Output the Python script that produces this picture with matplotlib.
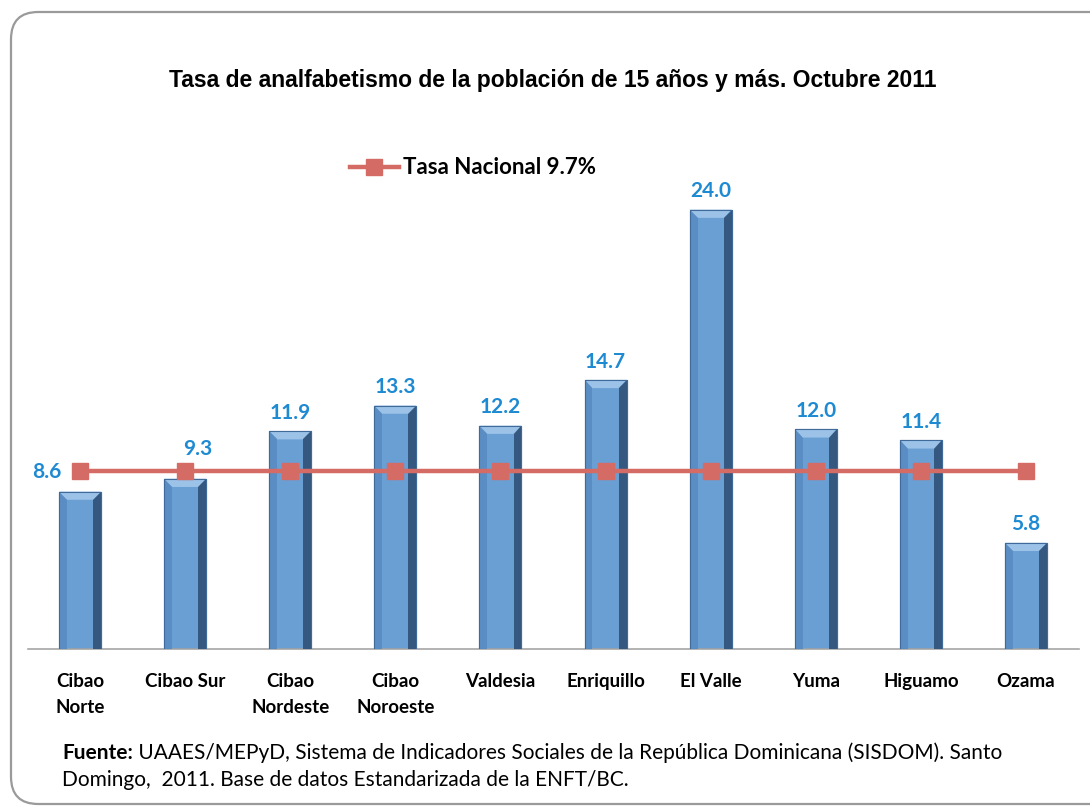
import matplotlib
matplotlib.use("Agg")
import matplotlib.pyplot as plt
from matplotlib.patches import Polygon, FancyBboxPatch
from matplotlib.lines import Line2D

categories = ["Cibao\nNorte", "Cibao Sur", "Cibao\nNordeste", "Cibao\nNoroeste", "Valdesia",
              "Enriquillo", "El Valle", "Yuma", "Higuamo", "Ozama"]
values = [8.6, 9.3, 11.9, 13.3, 12.2, 14.7, 24.0, 12.0, 11.4, 5.8]
national_rate = 9.7
national_label = "Tasa Nacional 9.7%"
title = "Tasa de analfabetismo de la población de 15 años y más. Octubre 2011"
source_bold = "Fuente:"
source_line1 = " UAAES/MEPyD, Sistema de Indicadores Sociales de la República Dominicana (SISDOM). Santo"
source_line2 = "Domingo,  2011. Base de datos Estandarizada de la ENFT/BC."

W, H = 1090, 810
fig = plt.figure(figsize=(W / 100, H / 100), dpi=100)
fig.patch.set_facecolor("white")

# rounded frame (runs off the right edge as in the reference)
frame = FancyBboxPatch((11 / W, 6 / H), 1120 / W, 792 / H,
                       boxstyle="round,pad=0,rounding_size=0.025",
                       transform=fig.transFigure, facecolor="none",
                       edgecolor="#9a9a9a", linewidth=1.6, zorder=-5, mutation_aspect=W / H)
fig.patches.append(frame)

ax_left, ax_right = 27.5, 1078.5
ax_bottom_px, ax_top_px = 649, 173
ax = fig.add_axes([ax_left / W, (H - ax_bottom_px) / H, (ax_right - ax_left) / W,
                   (ax_bottom_px - ax_top_px) / H])
ax.set_facecolor("none")
x = list(range(len(categories)))
ax.set_xlim(-0.5, len(categories) - 0.5)
ax.set_ylim(0, 26)

bar_w = 0.40
bars = ax.bar(x, values, width=bar_w, color="#6a9fd4", edgecolor="#3f6a99", linewidth=0.8, zorder=2)

# bevel effect
bx = 0.075   # horizontal bevel in data units
by = 0.45    # vertical bevel in data units
for b in bars:
    x0, w, h = b.get_x(), b.get_width(), b.get_height()
    x1 = x0 + w
    top = Polygon([(x0, h), (x1, h), (x1 - bx, h - by), (x0 + bx, h - by)],
                  closed=True, facecolor="#9cc2e8", edgecolor="none", zorder=3)
    right = Polygon([(x1, h), (x1, 0), (x1 - bx, 0), (x1 - bx, h - by)],
                    closed=True, facecolor="#34587f", edgecolor="none", zorder=3)
    left = Polygon([(x0, h), (x0, 0), (x0 + bx, 0), (x0 + bx, h - by)],
                   closed=True, facecolor="#5a8dc3", edgecolor="none", zorder=3)
    ax.add_patch(top)
    ax.add_patch(right)
    ax.add_patch(left)
    ax.plot([x0, x1, x1, x0, x0], [0, 0, h, h, 0], color="#3f6a99", lw=0.8, zorder=4)

line_color = "#d56b65"
ax.plot(x, [national_rate] * len(x), color=line_color, lw=3.2, marker="s",
        markersize=11, markerfacecolor=line_color, markeredgecolor=line_color, zorder=5)

lab_font = dict(family=["Lato", "DejaVu Sans"], fontweight="bold", fontsize=15, color="#1e8ad2")
for i, v in enumerate(values):
    if i == 0:
        off, va = (-24, 14), "center"
    elif i == 1:
        off, va = (9, 14), "bottom"
    else:
        off, va = (0, 6), "bottom"
    ax.annotate(f"{v:.1f}", (i, v), xytext=off, textcoords="offset points",
                ha="center", va=va, zorder=6, **lab_font)

for s in ["top", "right", "left"]:
    ax.spines[s].set_visible(False)
ax.spines["bottom"].set_color("#a6a6a6")
ax.spines["bottom"].set_linewidth(1.2)
ax.set_yticks([])
ax.set_xticks(x)
ax.set_xticklabels(categories, family=["Lato", "DejaVu Sans"], fontweight="bold",
                   fontsize=13.5, color="black", linespacing=1.65, va="top")
ax.tick_params(axis="x", length=0, pad=17)

fig.text(553 / W, 1 - 80 / H, title, ha="center", va="center",
         family=["Liberation Sans", "DejaVu Sans"], fontweight="bold", fontsize=16.5)

handle = Line2D([], [], color=line_color, lw=3.2, marker="s", markersize=11)
fig.legend([handle], [national_label], loc="center left",
           bbox_to_anchor=(350 / W, 1 - 168 / H), frameon=False,
           prop=dict(family=["Lato", "DejaVu Sans"], weight="bold", size=16),
           handlelength=2.2, handletextpad=0.2, borderpad=0, borderaxespad=0)

fs = 15
t1 = fig.text(62 / W, 1 - 753 / H, source_bold, ha="left", va="center",
              family=["Lato", "DejaVu Sans"], fontweight="bold", fontsize=fs)
fig.canvas.draw()
bb = t1.get_window_extent()
fig.text(bb.x1 / W, 1 - 753 / H, source_line1, ha="left", va="center",
         family=["Lato", "DejaVu Sans"], fontsize=fs)
fig.text(62 / W, 1 - 780 / H, source_line2, ha="left", va="center",
         family=["Lato", "DejaVu Sans"], fontsize=fs)

fig.savefig("out.png", dpi=100, facecolor="white")
